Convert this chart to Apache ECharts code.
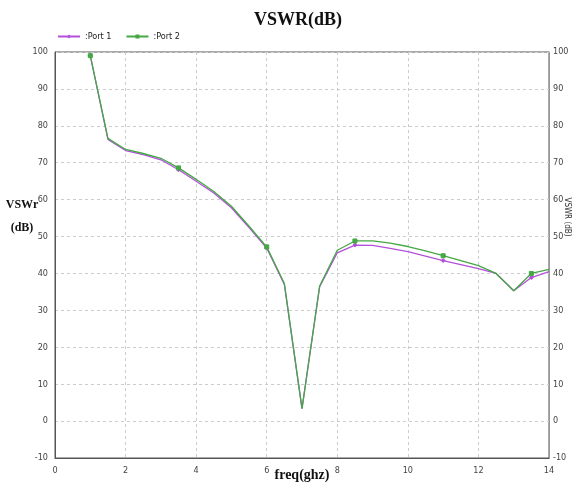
<!DOCTYPE html>
<html>
<head>
<meta charset="utf-8">
<script src="https://cdn.jsdelivr.net/npm/echarts@6/dist/echarts.min.js"></script>
<style>
  html, body { margin: 0; padding: 0; background: #fff; }
  #chart { width: 576px; height: 489px; }
</style>
</head>
<body>
<div id="chart"></div>
<script>
// frequency points (GHz)
const freq = [1, 1.5, 2, 2.5, 3, 3.5, 4, 4.5, 5, 5.5, 6, 6.5, 7, 7.5, 8, 8.5, 9, 9.5, 10, 10.5, 11, 11.5, 12, 12.5, 13, 13.5, 14]
// VSWR in dB for each port
const port1 = [99, 76.3, 73.3, 72.2, 70.8, 68.1, 65.0, 61.8, 57.8, 52.4, 46.9, 37.0, 3.4, 36.4, 45.6, 47.7, 47.6, 46.8, 45.9, 44.7, 43.5, 42.4, 41.3, 40.0, 35.3, 38.9, 40.5]
const port2 = [99, 76.6, 73.6, 72.5, 71.2, 68.6, 65.5, 62.2, 58.2, 52.8, 47.2, 37.3, 3.4, 36.6, 46.3, 48.8, 48.8, 48.2, 47.3, 46.1, 44.8, 43.5, 42.1, 40.0, 35.3, 40.0, 41.1]
const xTicks = { min: 0, max: 14, step: 2 }
const yTicks = { min: -10, max: 100, step: 10 }

const narrow = "'Liberation Sans Narrow', 'DejaVu Sans Condensed', sans-serif"
const serif = "'Liberation Serif', 'DejaVu Serif', serif"

let myChart = echarts.init(document.getElementById('chart'))

// markers only every 5th sample, like the original plot
function withMarkers (vals) {
  return vals.map((v, i) => ({
    value: [freq[i], v],
    symbolSize: i % 5 === 0 ? 4 : 0
  }))
}

let option = {
  animation: false,
  title: {
    text: 'VSWR(dB)',
    left: 293,
    textAlign: 'center',
    top: 6,
    textStyle: { fontFamily: serif, fontSize: 18, fontWeight: 'bold', color: '#111' }
  },
  legend: {
    left: 52,
    top: 27,
    itemWidth: 22,
    itemHeight: 5,
    itemGap: 14,
    textStyle: { fontFamily: narrow, fontSize: 9, color: '#222' },
    formatter: name => ':' + name,
    data: ['Port 1', 'Port 2']
  },
  // y-axis titles sit above the middle in the original, so place them directly
  graphic: [
    {
      type: 'text',
      x: 22,
      y: 216,
      style: {
        text: 'VSWr\n(dB)',
        fontFamily: serif,
        fontSize: 12,
        fontWeight: 'bold',
        fill: '#111',
        lineHeight: 23,
        align: 'center',
        verticalAlign: 'middle'
      }
    },
    {
      type: 'text',
      x: 567,
      y: 217,
      rotation: -Math.PI / 2,
      style: {
        text: 'VSWR (dB)',
        fontFamily: narrow,
        fontSize: 8,
        fill: '#333',
        align: 'center',
        verticalAlign: 'middle'
      }
    }
  ],
  grid: {
    left: 55, right: 27, top: 52, bottom: 31,
    outerBoundsMode: 'none',
    containLabel: false,
    show: true, borderColor: '#555', borderWidth: 1
  },
  xAxis: {
    type: 'value',
    min: xTicks.min,
    max: xTicks.max,
    interval: xTicks.step,
    name: 'freq(ghz)',
    nameLocation: 'middle',
    nameGap: 10,
    nameMoveOverlap: false,
    nameTextStyle: { fontFamily: serif, fontSize: 14, fontWeight: 'bold', color: '#111' },
    axisLine: { onZero: false, lineStyle: { color: '#555' } },
    axisTick: { show: false },
    axisLabel: { fontFamily: narrow, fontSize: 9, color: '#444', margin: 8 },
    splitLine: { lineStyle: { color: '#ccc', type: [3, 3] } }
  },
  yAxis: [
    {
      type: 'value',
      min: yTicks.min,
      max: yTicks.max,
      interval: yTicks.step,
      axisLine: { show: true, lineStyle: { color: '#555' } },
      axisTick: { show: false },
      axisLabel: { fontFamily: narrow, fontSize: 9, color: '#444', margin: 7 },
      splitLine: { lineStyle: { color: '#ccc', type: [3, 3] } }
    },
    {
      type: 'value',
      min: yTicks.min,
      max: yTicks.max,
      interval: yTicks.step,
      position: 'right',
      axisLine: { show: true, lineStyle: { color: '#999' } },
      axisTick: { show: false },
      axisLabel: { fontFamily: narrow, fontSize: 9, color: '#444', margin: 4 },
      splitLine: { show: false }
    }
  ],
  series: [
    {
      name: 'Port 1',
      type: 'line',
      symbol: 'diamond',
      showAllSymbol: true,
      data: withMarkers(port1),
      itemStyle: { color: '#b44fdc', borderColor: '#b44fdc' },
      lineStyle: { color: '#b44fdc', width: 1.3 }
    },
    {
      name: 'Port 2',
      type: 'line',
      symbol: 'rect',
      showAllSymbol: true,
      data: withMarkers(port2),
      itemStyle: { color: '#44a844', borderColor: '#44a844' },
      lineStyle: { color: '#44a844', width: 1.3 }
    }
  ]
}
myChart.setOption(option)
</script>
</body>
</html>
